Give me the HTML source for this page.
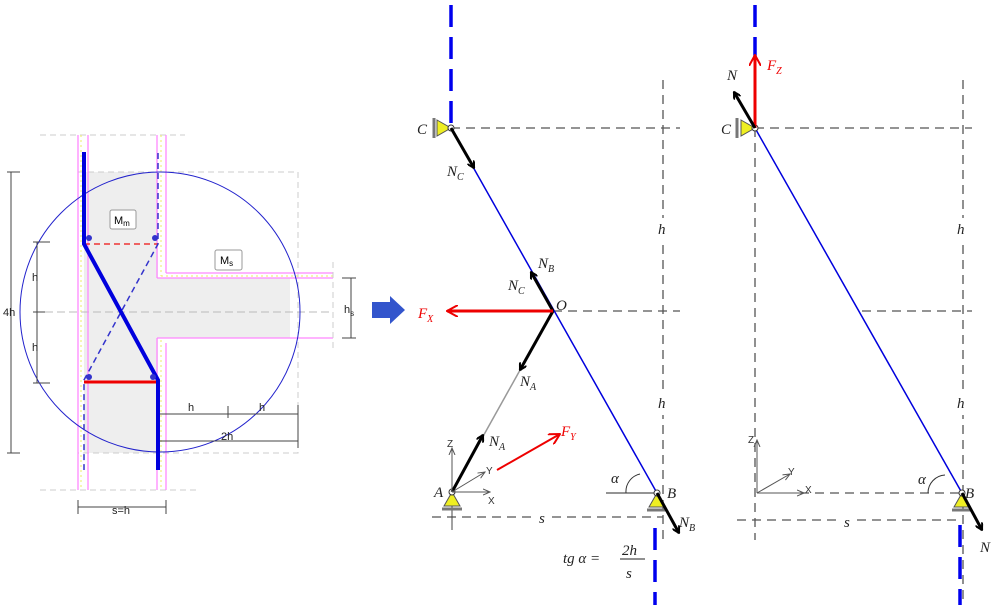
<!DOCTYPE html>
<html><head><meta charset="utf-8"><style>
html,body{margin:0;padding:0;background:#fff}
svg{display:block}
text{font-family:"Liberation Serif",serif;font-style:italic}
.s{font-family:"Liberation Sans",sans-serif;font-style:normal}
</style></head><body>
<svg width="996" height="610" viewBox="0 0 996 610" xmlns="http://www.w3.org/2000/svg">
<defs>
<marker id="ab" markerWidth="8" markerHeight="8" refX="7" refY="4" orient="auto" markerUnits="userSpaceOnUse"><path d="M0,0 L7,4 L0,8" fill="none" stroke="#000" stroke-width="2"/></marker>
<marker id="ar" markerWidth="12" markerHeight="12" refX="11" refY="6" orient="auto" markerUnits="userSpaceOnUse"><path d="M0,0 L11,6 L0,12" fill="none" stroke="#e00" stroke-width="2"/></marker>
<marker id="ag" markerWidth="8" markerHeight="8" refX="7" refY="4" orient="auto" markerUnits="userSpaceOnUse"><path d="M0,1 L7,4 L0,7" fill="none" stroke="#555" stroke-width="1"/></marker>
</defs>

<!-- LEFT DRAWING -->
<rect x="84" y="172" width="74" height="281" fill="#eee"/>
<path d="M158,278 H290 V338 H158 Z" fill="#eee"/>
<rect x="78" y="172" width="220" height="281" fill="none" stroke="#ccc" stroke-dasharray="6,4"/>
<line x1="40" y1="135" x2="185" y2="135" stroke="#ccc" stroke-dasharray="6,4"/>
<line x1="40" y1="490" x2="200" y2="490" stroke="#ccc" stroke-dasharray="6,4"/>
<line x1="45" y1="312" x2="333" y2="312" stroke="#bbb" stroke-dasharray="8,4"/>
<g stroke="#f8f" stroke-width="1.3" fill="none">
<line x1="78" y1="135" x2="78" y2="490"/><line x1="88" y1="135" x2="88" y2="490"/>
<line x1="157" y1="135" x2="157" y2="278"/><line x1="166" y1="135" x2="166" y2="273"/>
<line x1="157" y1="338" x2="157" y2="490"/><line x1="166" y1="343" x2="166" y2="490"/>
<path d="M166,273 H333"/><path d="M157,278 H333"/><path d="M157,338 H333"/>
</g>
<g stroke="#ee6" stroke-width="1" fill="none" stroke-dasharray="2,3">
<line x1="81" y1="135" x2="81" y2="490"/><line x1="161" y1="135" x2="161" y2="276"/><line x1="161" y1="340" x2="161" y2="490"/><line x1="161" y1="276" x2="333" y2="276"/>
</g>
<line x1="333" y1="262" x2="333" y2="350" stroke="#ccc" stroke-dasharray="6,4"/>
<circle cx="160" cy="312" r="140" fill="none" stroke="#22c" stroke-width="1"/>
<line x1="84" y1="244" x2="158" y2="244" stroke="#e33" stroke-width="1.5" stroke-dasharray="6,4"/>
<line x1="84" y1="382" x2="158" y2="382" stroke="#e00" stroke-width="3"/>
<path d="M158,153 V244 L84,380 V470" fill="none" stroke="#33c" stroke-width="1.5" stroke-dasharray="6,4"/>
<path d="M84,152 V244 L158,380 V470" fill="none" stroke="#00d" stroke-width="4"/>
<g fill="#33c"><circle cx="89" cy="238" r="3"/><circle cx="155" cy="238" r="3"/><circle cx="89" cy="377" r="3"/><circle cx="153" cy="377" r="3"/></g>
<rect x="110" y="210" width="26" height="19" fill="#fff" stroke="#999" rx="2"/>
<text x="114" y="224" class="s" font-size="11">M<tspan font-size="8" dy="2">m</tspan></text>
<rect x="215" y="250" width="27" height="20" fill="#fff" stroke="#999" rx="2"/>
<text x="220" y="264" class="s" font-size="11">M<tspan font-size="8" dy="2">s</tspan></text>
<g stroke="#444" stroke-width="1" fill="none">
<line x1="11" y1="172" x2="11" y2="453"/><line x1="7" y1="172" x2="20" y2="172"/><line x1="7" y1="453" x2="20" y2="453"/>
<line x1="37" y1="242" x2="37" y2="383"/><line x1="33" y1="242" x2="50" y2="242"/><line x1="33" y1="383" x2="50" y2="383"/><line x1="33" y1="312" x2="45" y2="312"/>
<line x1="351" y1="278" x2="351" y2="338"/><line x1="342" y1="278" x2="356" y2="278"/><line x1="342" y1="338" x2="356" y2="338"/>
<line x1="160" y1="414" x2="298" y2="414"/><line x1="160" y1="441" x2="298" y2="441"/><line x1="298" y1="405" x2="298" y2="448"/><line x1="228" y1="406" x2="228" y2="418"/>
<line x1="78" y1="507" x2="166" y2="507"/><line x1="78" y1="500" x2="78" y2="514"/><line x1="166" y1="500" x2="166" y2="514"/>
</g>
<g font-size="11" fill="#222">
<text x="3" y="316" class="s">4h</text><text x="32" y="281" class="s">h</text><text x="32" y="351" class="s">h</text>
<text x="344" y="313" class="s">h<tspan font-size="8" dy="3">s</tspan></text>
<text x="188" y="411" class="s">h</text><text x="259" y="411" class="s">h</text><text x="221" y="440" class="s">2h</text>
<text x="112" y="514" class="s">s=h</text>
</g>
<path d="M372,302 L390,302 L390,296 L405,310 L390,324 L390,318 L372,318 Z" fill="#35c"/>

<!-- MIDDLE -->
<line x1="451" y1="5" x2="451" y2="128" stroke="#00e" stroke-width="3.5" stroke-dasharray="22,10"/>
<line x1="655" y1="528" x2="655" y2="605" stroke="#00e" stroke-width="3.5" stroke-dasharray="22,10"/>
<g stroke="#555" stroke-width="1.3" stroke-dasharray="9,6" fill="none">
<line x1="451" y1="128" x2="680" y2="128"/><line x1="553" y1="311" x2="680" y2="311"/>
<line x1="663" y1="80" x2="663" y2="540"/><line x1="432" y1="517" x2="663" y2="517"/>
</g>
<rect x="656" y="218" width="14" height="22" fill="#fff"/><rect x="656" y="393" width="14" height="22" fill="#fff"/><rect x="536" y="508" width="14" height="16" fill="#fff"/>
<line x1="606" y1="493" x2="660" y2="493" stroke="#555" stroke-width="1.3"/>
<path d="M626,493 A18,18 0 0 1 640,474" fill="none" stroke="#333"/>
<line x1="451" y1="128" x2="657" y2="493" stroke="#00d" stroke-width="1.5"/>
<line x1="452" y1="492" x2="553" y2="311" stroke="#999" stroke-width="1.5"/>
<line x1="452" y1="492" x2="452" y2="530" stroke="#444"/>
<path d="M437,120 L451,128 L437,136 Z" fill="#ee2" stroke="#555"/><line x1="434" y1="118" x2="434" y2="138" stroke="#777" stroke-width="3"/>
<path d="M452,492 L444,506 L460,506 Z" fill="#ee2" stroke="#555"/><line x1="442" y1="509" x2="462" y2="509" stroke="#777" stroke-width="3"/>
<path d="M657,493 L649,507 L665,507 Z" fill="#ee2" stroke="#555"/><line x1="647" y1="510" x2="667" y2="510" stroke="#777" stroke-width="3"/>
<circle cx="451" cy="128" r="3" fill="#fff" stroke="#333"/><circle cx="452" cy="492" r="3" fill="#fff" stroke="#333"/><circle cx="657" cy="493" r="3" fill="#fff" stroke="#333"/>
<g stroke="#000" stroke-width="3" fill="none" marker-end="url(#ab)">
<line x1="451" y1="128" x2="474" y2="168"/>
<line x1="553" y1="311" x2="531" y2="272"/>
<line x1="553" y1="311" x2="520" y2="370"/>
<line x1="452" y1="492" x2="483" y2="435"/>
<line x1="657" y1="493" x2="679" y2="533"/>
</g>
<line x1="553" y1="311" x2="447" y2="311" stroke="#e00" stroke-width="3" marker-end="url(#ar)"/>
<line x1="497" y1="470" x2="560" y2="434" stroke="#e00" stroke-width="2" marker-end="url(#ar)"/>
<g stroke="#555" stroke-width="1" marker-end="url(#ag)">
<line x1="452" y1="492" x2="452" y2="448"/><line x1="452" y1="492" x2="490" y2="492"/><line x1="452" y1="492" x2="485" y2="472"/>
</g>
<g font-size="15" fill="#222">
<text x="417" y="134">C</text><text x="447" y="176">N<tspan font-size="10" dy="4">C</tspan></text>
<text x="508" y="290">N<tspan font-size="10" dy="4">C</tspan></text><text x="538" y="268">N<tspan font-size="10" dy="4">B</tspan></text>
<text x="556" y="310">O</text>
<text x="520" y="386">N<tspan font-size="10" dy="4">A</tspan></text><text x="489" y="446">N<tspan font-size="10" dy="4">A</tspan></text>
<text x="434" y="497">A</text><text x="667" y="498">B</text><text x="679" y="527">N<tspan font-size="10" dy="4">B</tspan></text>
<text x="611" y="483">α</text><text x="658" y="234">h</text><text x="658" y="408">h</text><text x="539" y="523">s</text>
<text x="418" y="318" fill="#e00">F<tspan font-size="10" dy="4">X</tspan></text>
<text x="561" y="436" fill="#e00">F<tspan font-size="10" dy="4">Y</tspan></text>
<text x="563" y="563">tg α =</text>
<text x="622" y="555">2h</text><line x1="620" y1="559" x2="645" y2="559" stroke="#222"/><text x="626" y="578">s</text>
</g>
<g font-size="10" fill="#333"><text x="447" y="447" class="s">Z</text><text x="488" y="504" class="s">X</text><text x="486" y="474" class="s">Y</text></g>

<!-- RIGHT -->
<line x1="755" y1="5" x2="755" y2="60" stroke="#00e" stroke-width="3.5" stroke-dasharray="22,10"/>
<line x1="960" y1="525" x2="960" y2="605" stroke="#00e" stroke-width="3.5" stroke-dasharray="22,10"/>
<g stroke="#555" stroke-width="1.3" stroke-dasharray="9,6" fill="none">
<line x1="755" y1="128" x2="972" y2="128"/><line x1="862" y1="311" x2="972" y2="311"/>
<line x1="963" y1="80" x2="963" y2="605"/><line x1="755" y1="128" x2="755" y2="540"/>
<line x1="737" y1="520" x2="962" y2="520"/><line x1="800" y1="493" x2="962" y2="493"/>
</g>
<rect x="955" y="218" width="14" height="22" fill="#fff"/><rect x="955" y="393" width="14" height="22" fill="#fff"/><rect x="841" y="511" width="14" height="16" fill="#fff"/>
<path d="M928,493 A18,18 0 0 1 945,475" fill="none" stroke="#333"/>
<line x1="755" y1="128" x2="962" y2="493" stroke="#00d" stroke-width="1.5"/>
<path d="M741,120 L755,128 L741,136 Z" fill="#ee2" stroke="#555"/><line x1="737" y1="118" x2="737" y2="138" stroke="#777" stroke-width="3"/>
<path d="M962,493 L954,507 L970,507 Z" fill="#ee2" stroke="#555"/><line x1="952" y1="510" x2="972" y2="510" stroke="#777" stroke-width="3"/>
<circle cx="755" cy="128" r="3" fill="#fff" stroke="#333"/><circle cx="962" cy="493" r="3" fill="#fff" stroke="#333"/>
<line x1="755" y1="128" x2="755" y2="55" stroke="#e00" stroke-width="3" marker-end="url(#ar)"/>
<g stroke="#000" stroke-width="3" fill="none" marker-end="url(#ab)">
<line x1="755" y1="128" x2="734" y2="92"/><line x1="962" y1="493" x2="982" y2="530"/>
</g>
<g stroke="#555" stroke-width="1" marker-end="url(#ag)">
<line x1="757" y1="493" x2="757" y2="440"/><line x1="757" y1="493" x2="804" y2="493"/><line x1="757" y1="493" x2="790" y2="474"/>
</g>
<g font-size="15" fill="#222">
<text x="721" y="134">C</text><text x="727" y="80">N</text><text x="965" y="498">B</text><text x="980" y="552">N</text>
<text x="918" y="484">α</text><text x="957" y="234">h</text><text x="957" y="408">h</text><text x="844" y="527">s</text>
<text x="767" y="70" fill="#e00">F<tspan font-size="10" dy="4">Z</tspan></text>
</g>
<g font-size="10" fill="#333"><text x="748" y="443" class="s">Z</text><text x="805" y="493" class="s">X</text><text x="788" y="475" class="s">Y</text></g>
</svg>
</body></html>
